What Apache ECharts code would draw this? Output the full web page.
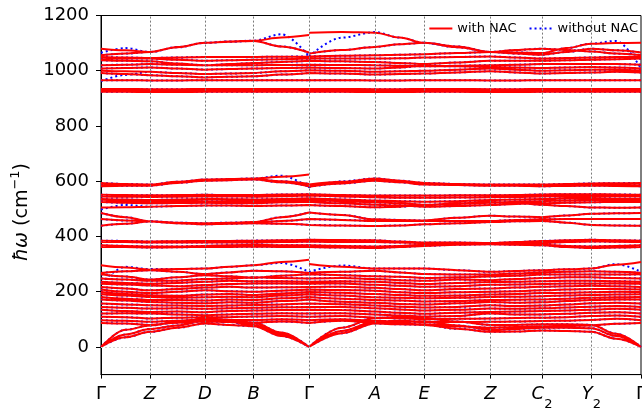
<!DOCTYPE html>
<html><head><meta charset="utf-8">
<script src="https://cdn.jsdelivr.net/npm/echarts@6/dist/echarts.min.js"></script>
<style>html,body{margin:0;padding:0;background:#fff}#c{width:642px;height:409px}</style>
</head><body><div id="c"></div>
<script>
// k-path distances: left piece Γ-Z-D-B-Γ, right piece Γ-A-E-Z-C2-Y2-Γ
const kLeft = [0, 24.5, 49, 76.5, 104, 128.35, 152.7, 180.35, 208];
const kRight = [208, 241, 274, 298.65, 323.3, 356.3, 389.3, 415.15, 441, 465.65, 490.3, 515.15, 540];
const tickPos = [0, 49, 104, 152.7, 208, 274, 323.3, 389.3, 441, 490.3, 540];
const tickLetters = ['Γ', 'Z', 'D', 'B', 'Γ', 'A', 'E', 'Z', 'C', 'Y', 'Γ'];
const tickSubs = ['', '', '', '', '', '', '', '', '2', '2', ''];
const yTicks = [0, 200, 400, 600, 800, 1000, 1200];

// each band: 9 values on the left piece, then 13 values on the right piece (cm^-1)
const A1 = [0, 35, 55, 70, 85, 80, 75, 40, 0, 0, 50, 85, 82, 80, 66, 55, 56, 60, 58, 55, 30, 0];
const A2 = [0, 45, 65, 78, 95, 90, 80, 45, 0, 0, 58, 92, 95, 92, 78, 62, 65, 70, 70, 68, 40, 0];
const A3 = [0, 62, 78, 90, 102, 98, 88, 52, 0, 0, 70, 105, 108, 104, 92, 80, 80, 82, 82, 80, 48, 0];
const O1 = [296, 288, 280, 282, 284, 290, 296, 308, 316, 300, 290, 284, 284, 284, 278, 272, 275, 278, 281, 284, 298, 308];
const O2 = [268, 274, 278, 272, 264, 270, 276, 274, 268, 268, 272, 276, 270, 264, 262, 262, 266, 270, 272, 274, 272, 268];
const O3 = [263, 255, 244, 252, 260, 256, 250, 258, 263, 263, 260, 256, 254, 250, 252, 255, 258, 262, 262, 262, 262, 263];
const O4 = [248, 244, 240, 240, 246, 248, 252, 250, 248, 248, 250, 246, 242, 240, 244, 242, 246, 250, 252, 252, 250, 248];
const O5 = [236, 232, 229, 232, 236, 240, 238, 238, 236, 236, 238, 236, 232, 228, 232, 235, 236, 238, 240, 240, 238, 236];
const O6 = [229, 226, 223, 220, 224, 228, 230, 230, 229, 229, 230, 225, 222, 218, 220, 225, 226, 228, 230, 230, 230, 229];
const O7 = [217, 212, 205, 210, 215, 218, 215, 216, 217, 217, 218, 214, 210, 205, 210, 212, 215, 218, 220, 222, 220, 217];
const O8 = [208, 200, 195, 200, 205, 202, 200, 204, 208, 208, 206, 204, 198, 195, 198, 200, 202, 205, 208, 210, 210, 208];
const O9 = [199, 192, 187, 185, 190, 192, 188, 194, 199, 199, 196, 192, 188, 185, 186, 190, 192, 195, 196, 198, 200, 199];
const O10 = [191, 186, 181, 178, 180, 182, 180, 186, 191, 191, 186, 180, 178, 176, 178, 181, 182, 184, 186, 188, 190, 191];
const O11 = [181, 175, 170, 170, 168, 172, 170, 176, 181, 181, 175, 170, 168, 165, 166, 170, 171, 172, 175, 178, 180, 181];
const O12 = [172, 168, 163, 160, 158, 162, 160, 166, 172, 172, 164, 160, 156, 154, 158, 163, 160, 162, 166, 170, 172, 172];
const O13 = [157, 154, 151, 150, 148, 150, 152, 154, 157, 157, 155, 150, 146, 143, 145, 151, 148, 150, 154, 158, 160, 157];
const O14 = [145, 142, 139, 140, 138, 140, 142, 144, 145, 145, 145, 140, 136, 132, 135, 139, 138, 140, 143, 146, 148, 145];
const O15 = [135, 130, 127, 128, 126, 130, 132, 134, 135, 135, 134, 128, 124, 120, 124, 127, 128, 130, 132, 135, 138, 135];
const O16 = [121, 122, 121, 118, 115, 118, 120, 122, 121, 121, 122, 118, 114, 110, 112, 121, 118, 118, 120, 124, 126, 121];
const O17 = [109, 108, 103, 106, 108, 108, 110, 112, 109, 109, 112, 106, 104, 100, 102, 103, 105, 106, 108, 112, 114, 109];
const O18 = [97, 95, 91, 95, 100, 98, 98, 100, 97, 97, 100, 95, 92, 90, 90, 91, 92, 94, 95, 98, 102, 97];
const O19 = [87, 85, 80, 88, 92, 90, 88, 92, 87, 87, 95, 88, 85, 82, 75, 70, 72, 74, 76, 78, 84, 87];
const L1 = [385, 384, 382, 383, 384, 384, 385, 386, 388, 388, 387, 386, 382, 378, 378, 376, 380, 384, 386, 388, 386, 385];
const L2 = [380, 380, 378, 378, 378, 378, 378, 380, 382, 382, 380, 380, 378, 376, 375, 374, 375, 376, 380, 382, 381, 380];
const L3 = [368, 366, 364, 364, 366, 368, 370, 368, 368, 368, 366, 364, 366, 370, 372, 374, 372, 370, 366, 364, 366, 368];
const L4 = [362, 362, 360, 361, 362, 362, 363, 362, 362, 362, 360, 358, 362, 366, 370, 372, 370, 368, 362, 358, 360, 362];
const M1 = [594, 590, 588, 598, 606, 608, 610, 616, 624, 588, 598, 610, 602, 594, 590, 588, 588, 588, 590, 592, 593, 594];
const M2 = [588, 587, 586, 596, 604, 606, 608, 600, 590, 585, 596, 606, 598, 590, 588, 586, 586, 586, 587, 588, 588, 588];
const M3 = [582, 584, 584, 594, 602, 604, 606, 596, 582, 580, 592, 602, 596, 588, 586, 584, 584, 582, 583, 584, 583, 582];
const M4 = [551, 550, 549, 550, 551, 550, 550, 552, 553, 553, 550, 548, 548, 548, 549, 549, 550, 552, 553, 553, 552, 551];
const M5 = [545, 544, 543, 544, 545, 545, 544, 546, 548, 548, 545, 542, 540, 540, 541, 542, 543, 545, 546, 546, 546, 545];
const M6 = [536, 534, 532, 534, 536, 535, 534, 536, 538, 538, 534, 530, 528, 526, 528, 532, 534, 536, 538, 538, 537, 536];
const M7 = [531, 528, 526, 527, 528, 528, 527, 530, 532, 532, 528, 524, 520, 515, 518, 522, 526, 528, 530, 532, 532, 531];
const M8 = [525, 522, 520, 521, 522, 521, 520, 524, 526, 526, 520, 515, 512, 508, 510, 514, 518, 520, 522, 524, 525, 525];
const M9 = [505, 506, 508, 510, 512, 512, 510, 512, 514, 514, 510, 506, 508, 514, 520, 525, 522, 515, 510, 505, 504, 505];
const M10 = [485, 470, 455, 450, 448, 450, 452, 470, 487, 487, 478, 462, 460, 458, 468, 475, 472, 470, 476, 482, 484, 485];
const M11 = [463, 458, 455, 450, 446, 448, 450, 456, 463, 463, 460, 456, 456, 456, 456, 456, 460, 462, 463, 463, 463, 463];
const M12 = [439, 446, 454, 448, 444, 446, 448, 446, 442, 442, 440, 438, 440, 444, 448, 452, 455, 456, 450, 442, 440, 439];
const H1 = [1080, 1074, 1068, 1086, 1101, 1106, 1109, 1120, 1129, 1138, 1140, 1138, 1120, 1101, 1085, 1068, 1066, 1064, 1082, 1098, 1100, 1101];
const H2 = [1056, 1062, 1068, 1085, 1101, 1105, 1108, 1088, 1066, 1062, 1075, 1086, 1096, 1101, 1088, 1068, 1062, 1058, 1068, 1080, 1074, 1066];
const H3 = [1050, 1048, 1046, 1048, 1050, 1050, 1050, 1051, 1052, 1052, 1054, 1056, 1058, 1060, 1064, 1068, 1075, 1080, 1075, 1070, 1062, 1056];
const H4 = [1044, 1044, 1044, 1040, 1036, 1038, 1040, 1042, 1044, 1044, 1044, 1044, 1045, 1048, 1050, 1052, 1048, 1044, 1046, 1048, 1050, 1050];
const H5 = [1038, 1036, 1034, 1026, 1020, 1024, 1028, 1032, 1036, 1036, 1034, 1032, 1028, 1024, 1030, 1036, 1036, 1036, 1038, 1040, 1042, 1044];
const H6 = [1020, 1022, 1024, 1022, 1020, 1020, 1020, 1021, 1022, 1022, 1021, 1020, 1018, 1016, 1018, 1020, 1022, 1024, 1024, 1024, 1024, 1022];
const H7 = [1008, 1010, 1012, 1008, 1004, 1006, 1008, 1010, 1012, 1012, 1010, 1008, 1012, 1018, 1016, 1014, 1012, 1010, 1012, 1014, 1012, 1008];
const H8 = [1000, 998, 996, 992, 988, 990, 992, 998, 1002, 1002, 1000, 996, 998, 1000, 1004, 1008, 1004, 1000, 1002, 1004, 1004, 1000];
const H9 = [992, 988, 984, 980, 976, 978, 980, 986, 992, 992, 990, 986, 988, 990, 994, 998, 994, 990, 992, 994, 996, 994];
const H10 = [966, 966, 965, 965, 966, 966, 966, 966, 966, 966, 966, 965, 965, 966, 966, 965, 965, 966, 966, 966, 966, 966];
const H11 = [934, 934, 933, 933, 934, 934, 934, 934, 934, 934, 934, 933, 933, 934, 934, 933, 933, 934, 934, 934, 934, 934];
const H12 = [929, 929, 928, 928, 929, 929, 929, 929, 929, 929, 929, 928, 928, 929, 929, 928, 928, 929, 929, 929, 929, 929];
const H13 = [924, 924, 923, 923, 924, 924, 924, 924, 924, 924, 924, 923, 923, 924, 924, 923, 923, 924, 924, 924, 924, 924];

// bands that differ without the non-analytical correction (near Γ)
const noNacO1 = [232, 290, 282, 282, 284, 290, 296, 304, 272, 272, 295, 284, 284, 284, 278, 272, 275, 278, 281, 284, 300, 272];
const noNacM1 = [594, 590, 588, 598, 606, 608, 610, 620, 578, 578, 600, 610, 602, 594, 590, 588, 588, 588, 590, 592, 593, 594];
const noNacM9 = [498, 514, 508, 510, 512, 512, 510, 512, 514, 514, 510, 506, 508, 514, 520, 525, 522, 515, 510, 505, 504, 505];
const noNacH1 = [1065, 1082, 1068, 1086, 1101, 1106, 1109, 1132, 1052, 1052, 1120, 1140, 1120, 1101, 1085, 1068, 1066, 1064, 1082, 1098, 1108, 1008];
const noNacH8 = [962, 985, 996, 992, 988, 990, 992, 998, 1002, 1002, 1000, 996, 998, 1000, 1004, 1008, 1004, 1000, 1002, 1004, 1004, 1000];

const bandsNAC = [A1, A2, A3, O1, O2, O3, O4, O5, O6, O7, O8, O9, O10, O11, O12, O13, O14, O15, O16, O17, O18, O19,
  L1, L2, L3, L4, M1, M2, M3, M4, M5, M6, M7, M8, M9, M10, M11, M12,
  H1, H2, H3, H4, H5, H6, H7, H8, H9, H10, H11, H12, H13];
const swap = new Map([[O1, noNacO1], [M1, noNacM1], [M9, noNacM9], [H1, noNacH1], [H8, noNacH8]]);
const bandsNoNAC = bandsNAC.map(b => swap.get(b) || b);

function toData(bands) {
  const out = [];
  bands.forEach(b => {
    kLeft.forEach((x, i) => out.push([x, b[i]]));
    out.push([kLeft[kLeft.length - 1], null]);
    kRight.forEach((x, i) => out.push([x, b[kLeft.length + i]]));
    out.push([kRight[kRight.length - 1], null]);
  });
  return out;
}

const FONT = 'DejaVu Sans';
const chart = echarts.init(document.getElementById('c'), null, { renderer: 'canvas' });
chart.setOption({
  animation: false,
  backgroundColor: '#fff',
  grid: { left: 101, right: 1, top: 15.5, bottom: 34.4, outerBoundsMode: 'none', containLabel: false,
    show: true, borderColor: '#000', borderWidth: 1, backgroundColor: 'transparent' },
  legend: {
    data: ['with NAC', 'without NAC'],
    orient: 'horizontal', right: 4, top: 22, padding: 0, itemGap: 12, itemWidth: 23, itemHeight: 14,
    itemStyle: { opacity: 0 },
    textStyle: { fontFamily: FONT, fontSize: 13, color: '#000' }
  },
  xAxis: {
    type: 'value', min: 0, max: 540,
    axisLine: { show: true, onZero: false, lineStyle: { color: '#000', width: 1 } },
    splitLine: { show: false },
    axisTick: { show: true, customValues: tickPos, length: 4, lineStyle: { color: '#000' } },
    axisLabel: {
      customValues: tickPos, margin: 11, color: '#000',
      formatter: v => {
        const i = tickPos.findIndex(p => Math.abs(p - v) < 0.01);
        if (i < 0) return '';
        const L = tickLetters[i];
        const style = L === 'Γ' ? 'g' : 'i';
        return '{' + style + '|' + L + '}' + (tickSubs[i] ? '{s|' + tickSubs[i] + '}' : '');
      },
      rich: {
        g: { fontFamily: FONT, fontSize: 18, color: '#000', verticalAlign: 'top', lineHeight: 20 },
        i: { fontFamily: FONT, fontSize: 18, fontStyle: 'italic', color: '#000', verticalAlign: 'top', lineHeight: 20 },
        s: { fontFamily: FONT, fontSize: 13, color: '#000', verticalAlign: 'bottom', lineHeight: 26 }
      }
    }
  },
  yAxis: {
    type: 'value', min: -100, max: 1200,
    axisLine: { show: true, onZero: false, lineStyle: { color: '#000', width: 1 } },
    splitLine: { show: false },
    axisTick: { show: true, customValues: yTicks, length: 5, lineStyle: { color: '#000' } },
    axisLabel: { customValues: yTicks, margin: 12, fontFamily: FONT, fontSize: 18, color: '#000', formatter: v => String(v) },
    name: '{i|ħω} (cm{sup|−1})',
    nameLocation: 'middle', nameRotate: 90, nameGap: 66,
    nameTextStyle: {
      fontFamily: FONT, fontSize: 19, color: '#000', padding: [0, 34, 0, 0],
      rich: {
        i: { fontFamily: FONT, fontSize: 19, fontStyle: 'italic', color: '#000' },
        sup: { fontFamily: FONT, fontSize: 13, color: '#000', verticalAlign: 'top', lineHeight: 26 }
      }
    }
  },
  series: [
    {
      type: 'line', data: [], silent: true, z: 1,
      markLine: {
        silent: true, symbol: ['none', 'none'], label: { show: false }, animation: false,
        data: tickPos.slice(1, -1).map(x => ({ xAxis: x, lineStyle: { color: '#7a7a7a', type: [2, 2], width: 1 } }))
          .concat([{ yAxis: 0, lineStyle: { color: '#d0d0d0', type: [2, 2], width: 1 } }])
      }
    },
    {
      name: 'without NAC', type: 'line', z: 2, data: toData(bandsNoNAC), showSymbol: false, symbol: 'none',
      smooth: 0.35, smoothMonotone: 'x', connectNulls: false,
      lineStyle: { color: '#0000ff', width: 2, type: [2, 3] }, itemStyle: { color: '#0000ff' }
    },
    {
      name: 'with NAC', type: 'line', z: 3, data: toData(bandsNAC), showSymbol: false, symbol: 'none',
      smooth: 0.35, smoothMonotone: 'x', connectNulls: false,
      lineStyle: { color: '#ff0000', width: 2 }, itemStyle: { color: '#ff0000' }
    }
  ]
});
</script>
</body></html>
